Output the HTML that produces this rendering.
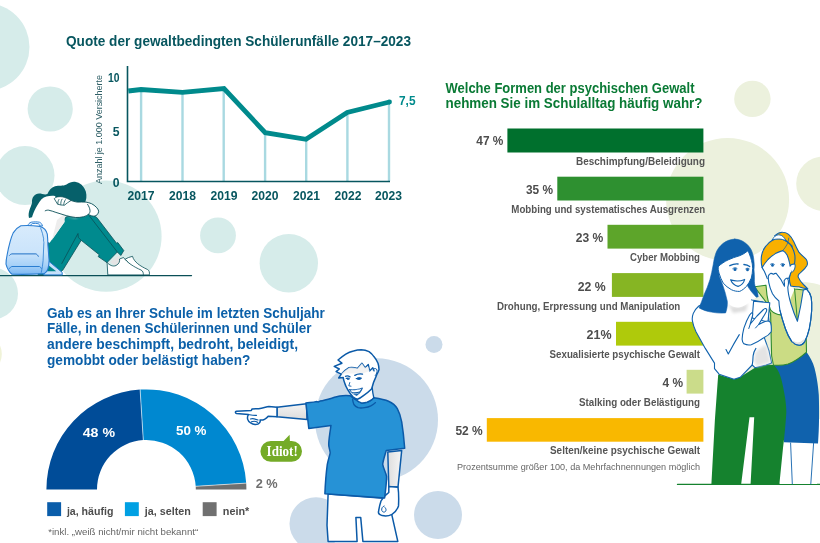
<!DOCTYPE html>
<html lang="de">
<head>
<meta charset="utf-8">
<title>Gewalt an Schulen – Infografik</title>
<style>
html,body{margin:0;padding:0;background:#fff;}
body{width:820px;height:543px;overflow:hidden;font-family:"Liberation Sans",sans-serif;}
svg{display:block;}
text{font-family:"Liberation Sans",sans-serif;}
.serif{font-family:"Liberation Serif",serif;}
.t1{fill:#07565f;font-weight:bold;font-size:14.8px;}
.t2{fill:#0a7a35;font-weight:bold;font-size:14.6px;}
.t3{fill:#0b60a9;font-weight:bold;font-size:14.8px;}
.yr{fill:#07565f;font-weight:bold;font-size:12.2px;}
.pct{fill:#4d4d4d;font-weight:bold;font-size:12.8px;}
.lab{fill:#555;font-weight:bold;font-size:10.6px;}
.fn{fill:#666;font-size:9px;}
.leg{fill:#4d4d4d;font-size:11.4px;font-weight:bold;}
</style>
</head>
<body>
<svg width="820" height="543" viewBox="0 0 820 543">
<!-- background circles -->
<g fill="#d6ecea">
<circle cx="-14.3" cy="47" r="43.8"/>
<circle cx="50.2" cy="109" r="22.6"/>
<circle cx="25" cy="175.5" r="29.5"/>
<circle cx="106" cy="236.2" r="55.6"/>
<circle cx="218" cy="235.4" r="17.9"/>
<circle cx="288.8" cy="263.2" r="29.2"/>
<circle cx="-8" cy="293.5" r="26"/>
</g>
<circle cx="-19" cy="354" r="20.8" fill="#f0f3d8"/>
<g fill="#cbdbea">
<circle cx="376.5" cy="419.7" r="61.5"/>
<circle cx="434" cy="344.5" r="8.5"/>
<circle cx="438" cy="515" r="24"/>
<circle cx="316" cy="523.7" r="26.5"/>
</g>
<g fill="#ecf1dd">
<circle cx="752.4" cy="98.9" r="18.2"/>
<circle cx="727.6" cy="199.4" r="61.5"/>
<circle cx="823.4" cy="183.7" r="27.2"/>
<circle cx="800" cy="352" r="70"/>
</g>
<!-- line chart -->
<text class="t1" x="66" y="46.4" textLength="345" lengthAdjust="spacingAndGlyphs">Quote der gewaltbedingten Schülerunfälle 2017–2023</text>
<g fill="#a9d9e1">
<rect x="139.9" y="90" width="2.4" height="91"/>
<rect x="181.3" y="92" width="2.4" height="89"/>
<rect x="222.5" y="89" width="2.4" height="92"/>
<rect x="263.9" y="133" width="2.4" height="48"/>
<rect x="305" y="139" width="2.4" height="42"/>
<rect x="346.2" y="113" width="2.4" height="68"/>
<rect x="387.8" y="103" width="2.4" height="78"/>
</g>
<path d="M127.5 66V181.5H390" fill="none" stroke="#07565f" stroke-width="1.6"/>
<path d="M128.3 91L141 89.5L182.5 92.3L224 88.5L265.2 132.7L306 139.3L347.2 112.5L389.5 102" fill="none" stroke="#008a8c" stroke-width="4.8" stroke-linejoin="miter"/>
<circle cx="389.5" cy="102" r="2.4" fill="#008a8c"/>
<text class="yr" x="119.5" y="81.5" text-anchor="end" textLength="11.5" lengthAdjust="spacingAndGlyphs">10</text>
<text class="yr" x="119.5" y="135.5" text-anchor="end">5</text>
<text class="yr" x="119.5" y="186.5" text-anchor="end">0</text>
<text transform="translate(102,184) rotate(-90)" font-size="8.3" fill="#2f5f66" textLength="109" lengthAdjust="spacingAndGlyphs">Anzahl je 1.000 Versicherte</text>
<g class="yr" text-anchor="middle">
<text x="141" y="199.5" textLength="27" lengthAdjust="spacingAndGlyphs">2017</text>
<text x="182.5" y="199.5" textLength="27" lengthAdjust="spacingAndGlyphs">2018</text>
<text x="224" y="199.5" textLength="27" lengthAdjust="spacingAndGlyphs">2019</text>
<text x="265" y="199.5" textLength="27" lengthAdjust="spacingAndGlyphs">2020</text>
<text x="306.5" y="199.5" textLength="27" lengthAdjust="spacingAndGlyphs">2021</text>
<text x="348" y="199.5" textLength="27" lengthAdjust="spacingAndGlyphs">2022</text>
<text x="388.5" y="199.5" textLength="27" lengthAdjust="spacingAndGlyphs">2023</text>
</g>
<text x="399" y="104.8" fill="#008a8c" font-weight="bold" font-size="12.8" textLength="16.5" lengthAdjust="spacingAndGlyphs">7,5</text>
<!-- bar chart -->
<text class="t2" x="445.5" y="92.5" textLength="249" lengthAdjust="spacingAndGlyphs">Welche Formen der psychischen Gewalt</text>
<text class="t2" x="445.5" y="108.1" textLength="257" lengthAdjust="spacingAndGlyphs">nehmen Sie im Schulalltag häufig wahr?</text>
<rect x="507.4" y="128.5" width="196" height="24" fill="#00702d"/>
<rect x="557.3" y="176.7" width="146.1" height="23.8" fill="#2e9030"/>
<rect x="607.5" y="224.8" width="95.9" height="23.8" fill="#5da52a"/>
<rect x="611.9" y="273.1" width="91.5" height="23.8" fill="#86b523"/>
<rect x="616" y="321.8" width="87.4" height="23.8" fill="#afca0b"/>
<rect x="686.6" y="369.8" width="16.8" height="23.8" fill="#cbdc8a"/>
<rect x="486.8" y="418.1" width="216.6" height="23.6" fill="#f9b800"/>
<g class="pct" text-anchor="end">
<text x="503.3" y="145.3" textLength="27" lengthAdjust="spacingAndGlyphs">47 %</text>
<text x="553" y="193.5" textLength="27" lengthAdjust="spacingAndGlyphs">35 %</text>
<text x="603.3" y="242" textLength="27.5" lengthAdjust="spacingAndGlyphs">23 %</text>
<text x="605.7" y="290.6" textLength="28" lengthAdjust="spacingAndGlyphs">22 %</text>
<text x="611.6" y="338.9" textLength="25" lengthAdjust="spacingAndGlyphs">21%</text>
<text x="683" y="386.5" textLength="20.5" lengthAdjust="spacingAndGlyphs">4 %</text>
<text x="482.7" y="434.6" textLength="27.3" lengthAdjust="spacingAndGlyphs">52 %</text>
</g>
<g class="lab" text-anchor="end">
<text x="705" y="164.9" textLength="129" lengthAdjust="spacingAndGlyphs">Beschimpfung/Beleidigung</text>
<text x="705.3" y="212.6" textLength="194" lengthAdjust="spacingAndGlyphs">Mobbing und systematisches Ausgrenzen</text>
<text x="700" y="261.2" textLength="70" lengthAdjust="spacingAndGlyphs">Cyber Mobbing</text>
<text x="680.3" y="309.8" textLength="183.3" lengthAdjust="spacingAndGlyphs">Drohung, Erpressung und Manipulation</text>
<text x="700" y="358" textLength="150.4" lengthAdjust="spacingAndGlyphs">Sexualisierte psychische Gewalt</text>
<text x="700" y="405.5" textLength="121" lengthAdjust="spacingAndGlyphs">Stalking oder Belästigung</text>
<text x="700" y="454" textLength="150" lengthAdjust="spacingAndGlyphs">Selten/keine psychische Gewalt</text>
</g>
<text class="fn" x="700" y="469.7" text-anchor="end" textLength="243" lengthAdjust="spacingAndGlyphs">Prozentsumme größer 100, da Mehrfachnennungen möglich</text>
<!-- half donut -->
<text class="t3" x="47" y="317.8" textLength="277.7" lengthAdjust="spacingAndGlyphs">Gab es an Ihrer Schule im letzten Schuljahr</text>
<text class="t3" x="47" y="333.4" textLength="264.5" lengthAdjust="spacingAndGlyphs">Fälle, in denen Schülerinnen und Schüler</text>
<text class="t3" x="47" y="349" textLength="251" lengthAdjust="spacingAndGlyphs">andere beschimpft, bedroht, beleidigt,</text>
<text class="t3" x="47" y="364.6" textLength="203.4" lengthAdjust="spacingAndGlyphs">gemobbt oder belästigt haben?</text>
<path d="M46.40 489.40A100 100 0 0 1 140.12 389.60L143.30 440.10A49.4 49.4 0 0 0 97.00 489.40Z" fill="#004c98"/>
<path d="M140.12 389.60A100 100 0 0 1 246.20 483.12L195.70 486.30A49.4 49.4 0 0 0 143.30 440.10Z" fill="#0088d0"/>
<path d="M246.20 483.12A100 100 0 0 1 246.40 489.40L195.80 489.40A49.4 49.4 0 0 0 195.70 486.30Z" fill="#6f6f6f"/>
<path d="M140.09 389.10L143.33 440.60" stroke="#fff" stroke-width="0.6"/>
<path d="M246.70 483.09L195.20 486.33" stroke="#fff" stroke-width="0.6"/>
<text x="82.7" y="436.6" fill="#fff" font-weight="bold" font-size="13.3" textLength="32.3" lengthAdjust="spacingAndGlyphs">48 %</text>
<text x="176" y="435.3" fill="#fff" font-weight="bold" font-size="13.3" textLength="30.5" lengthAdjust="spacingAndGlyphs">50 %</text>
<text x="255.7" y="487.8" fill="#6f6f6f" font-weight="bold" font-size="13.3" textLength="22" lengthAdjust="spacingAndGlyphs">2 %</text>
<rect x="47.2" y="502.2" width="13.9" height="13.9" fill="#0a5daa"/>
<rect x="124.9" y="502.2" width="13.9" height="13.9" fill="#00a0e3"/>
<rect x="202.7" y="502.2" width="13.9" height="13.9" fill="#707070"/>
<text class="leg" x="66.9" y="514.7" textLength="46.5" lengthAdjust="spacingAndGlyphs">ja, häufig</text>
<text class="leg" x="144.8" y="514.7" textLength="46" lengthAdjust="spacingAndGlyphs">ja, selten</text>
<text class="leg" x="222.8" y="514.7" textLength="26.5" lengthAdjust="spacingAndGlyphs">nein*</text>
<text class="fn" x="48.2" y="535" textLength="150" lengthAdjust="spacingAndGlyphs">*inkl. „weiß nicht/mir nicht bekannt“</text>
<!-- bubble -->
<path d="M270.8 440.9H283.6L289.6 434.8L289.9 440.9H291.6A10.4 10.4 0 0 1 291.6 461.7H270.8A10.4 10.4 0 0 1 270.8 440.9Z" fill="#74ab27"/>
<text class="serif" x="266.6" y="455.6" fill="#fff" font-weight="bold" font-size="14.5" textLength="31.2" lengthAdjust="spacingAndGlyphs">Idiot!</text>
<!-- sitting girl -->
<defs><filter id="bl" x="-30%" y="-30%" width="160%" height="160%"><feGaussianBlur stdDeviation="1.6"/></filter></defs>
<g stroke-linejoin="round" stroke-linecap="round">
<!-- ground -->
<path d="M0 275.6H191.5" stroke="#0a4f57" stroke-width="1.3" fill="none"/>
<!-- hair -->
<path d="M29 218C27.5 212 31 207 32 203C31.5 199 33 196 36 194.3C40 192.3 44 195.5 47.4 194C49 190.5 51 187.5 55 186.3C59 185 63 186.5 66.5 184.5C69.5 182.5 72 181.5 75 181.8C80 182.5 84 186 85.8 191.5C87 196 86.5 200 84.5 203.5L56 199L40 205L33 217Z" fill="#06606a"/>
<!-- trousers back leg + front leg -->
<path d="M91.5 214.5L96.8 217.5L116.5 243.2L117.8 242.6L123.8 250.6L120.8 255.5L117.3 252L107 262.6L98.2 256.6L99.3 254.8L81.2 240.3L63 269.8L58 274.9H38L48.5 243L66 217L80 214Z" fill="#008a8e" stroke="#0a4f57" stroke-width="0.8"/>
<path d="M89.5 216L117.3 252" stroke="#0a4f57" stroke-width="0.8" fill="none"/>
<path d="M81.2 240.3L78.3 237.5L78 233.5L61.8 263.5" stroke="#0a4f57" stroke-width="0.8" fill="none"/>
<!-- shoes -->
<path d="M125.5 259L128.5 257.5L132.5 256.3C134 262 140 266 147.5 269.5C149.3 270.5 149.8 272.5 149.3 274.9H140Z" fill="#fff" stroke="#0a4f57" stroke-width="0.8"/>
<path d="M110 262L118.5 255.5L121.5 259.5L116 266Z" fill="#e4e4e4"/>
<path d="M107.3 262.6C109 265 113 267 116 265.5C119 264 120 261.5 119.5 259L123.5 257.5C127 262.5 134 267 141 270C143 271 143.5 273 143.3 274.9H108.2Z" fill="#fff" stroke="#0a4f57" stroke-width="0.8"/>
<!-- shirt body -->
<path d="M31 222C32.5 214 35.5 207 41.5 199.3C45 196.3 50 195.5 55 196L64 212L64.5 222L49.5 243L46 238L40 226Z" fill="#fff"/>
<path d="M64.2 214L64.5 222L52 240L57 220Z" fill="#ededed"/>
<!-- arm -->
<path d="M45.2 210.8C46.3 210.2 47.5 210 48.7 210.2C51 210.7 53.5 211.5 55.9 212.4L66.2 215.6C69.3 216.5 72.5 217.2 75.7 217.5C78.5 217.6 81.2 217.3 83.7 216.7C85.5 216.2 87.1 215.5 88.4 214.4C89.5 215 90.5 215.3 91.5 215.8C92.6 216.2 93.8 216.2 94.8 216C95.7 215.8 96.5 215.4 97.1 214.8C98 213.8 98.6 212.5 98.7 211.2C98.4 209.7 97.5 208.4 96.3 207.2C94.9 205.8 93.3 204.6 91.6 203.7C89.8 203 87.9 202.4 86 202.1L77.3 202.1L71 200.5L54 198L44 203Z" fill="#fff"/>
<path d="M62 214.5L75.7 218.5L78 217.6L66.2 215.6Z" fill="#dedede" filter="url(#bl)"/>
<path d="M45.2 210.8C46.3 210.2 47.5 210 48.7 210.2C51 210.7 53.5 211.5 55.9 212.4L66.2 215.6C69.3 216.5 72.5 217.2 75.7 217.5C78.5 217.6 81.2 217.3 83.7 216.7C85.5 216.2 87.1 215.5 88.4 214.4C89.7 213.2 90.2 211.8 90 210.4C89.8 208.2 88.8 206.2 87.6 204.4M88.4 214.4C89.5 215 90.5 215.4 91.5 215.8C92.6 216.2 93.8 216.2 94.8 216C95.7 215.8 96.5 215.4 97.1 214.8C98 213.8 98.6 212.5 98.7 211.2C98.4 209.7 97.5 208.4 96.3 207.2C94.9 205.8 93.3 204.6 91.6 203.7C89.8 203 87.9 202.4 86 202.1C83 201.9 80 202.1 77.3 202.1C75 201.8 72.8 201.2 71 200.5" fill="none" stroke="#0a4f57" stroke-width="0.9"/>
<!-- hand -->
<path d="M54.5 198.4C55.5 197.3 57 196.8 59 196.7C61.5 196.5 64 197 66.2 198.1C68 198.8 69.8 199.6 71 200.5L67.3 202.9L64.5 205.2L61 205L58 204.3Z" fill="#fff" stroke="#0a4f57" stroke-width="0.8"/>
<path d="M58.9 199.5C58 201 57.7 202.5 57.9 204M62 199.2C61 201 60.7 202.7 60.8 204.4M65.4 199.7C64.3 201.4 63.8 203 63.8 204.8" stroke="#0a4f57" stroke-width="0.8" fill="none"/>
<!-- backpack -->
<defs><linearGradient id="bp" x1="0" y1="0" x2="0" y2="1"><stop offset="0" stop-color="#d8ebfc"/><stop offset="0.55" stop-color="#cbe4fb"/><stop offset="0.8" stop-color="#a9d2f8"/><stop offset="1" stop-color="#7db9f3"/></linearGradient></defs>
<path d="M47.9 260.5L62.2 272.4V274.9H44Z" fill="#c6e0fa" stroke="#2a7dd1" stroke-width="1"/>
<path d="M48.5 265.3L56.2 271.2H46.1Z" fill="#00878a"/>
<path d="M27.5 226C28.3 224 29.5 222.7 31.1 222.2C34 221.7 37 221.7 39.5 222.2C41 222.8 42 224 42.5 226L40 226C39.5 224.8 39 224 38.3 223.7C36.3 223.3 34.3 223.3 32.3 223.6C31.5 224 30.9 224.8 30.5 226Z" fill="#d8ebfc" stroke="#2a7dd1" stroke-width="0.9"/>
<path d="M20.9 225.8C27 225.3 33.5 225.6 39.5 226.4C41.8 226.9 43.6 227.9 44.9 229.4C46 230.8 46.9 232.4 47.3 234.1C47.7 237.7 47.8 241.3 47.9 244.9L49.1 260.5C49 263.5 48.6 266.3 47.9 268.8C47.2 271 46 272.6 44.3 273.6C33.5 274.4 22.7 274.5 12 274.2C10.4 273 9.2 271.6 8.4 270C7.3 268.2 6.5 266.2 6 264.1C6 260.8 6.5 257.6 7.2 254.5C8 250 9 245.6 10.2 241.3C11 238.4 12 235.6 13.2 232.9C15 229.8 17.5 227.4 20.9 225.8Z" fill="url(#bp)" stroke="#2a7dd1" stroke-width="1.1"/>
<path d="M9.6 255.3C10.2 254.5 11 254 12 253.9H35.9C37 254.3 37.8 255.2 38.3 256.3" fill="none" stroke="#1f6fc4" stroke-width="1"/>
<path d="M9.6 268.4C10.2 267.3 11 266.7 12 266.5H39.5C40.3 266.9 40.9 267.5 41.3 268.4" fill="none" stroke="#2a7dd1" stroke-width="1"/>
<path d="M40.7 228.2C42 231.5 43 235 43.7 238.9C43 240.5 44.3 242 43.8 244C43.6 249.5 43.4 255 43.1 260.5C42.8 264.6 42.2 268.6 41.3 272.4" fill="none" stroke="#2a7dd1" stroke-width="0.8"/>
</g>
<!-- pointing boy -->
<defs>
<linearGradient id="slv" x1="0" y1="0" x2="0" y2="1"><stop offset="0" stop-color="#f4f4f4"/><stop offset="1" stop-color="#dcdcdc"/></linearGradient>
<linearGradient id="slv2" x1="0" y1="0" x2="1" y2="0"><stop offset="0" stop-color="#dedede"/><stop offset="1" stop-color="#f6f6f6"/></linearGradient>
</defs>
<g stroke="#0b5aa8" stroke-width="1.5" stroke-linejoin="round" stroke-linecap="round">
<!-- shorts -->
<path d="M328.1 494L327 525.2L328.1 541.4H357.1L355.9 517.4H360.7L362.9 541.4H397.8L392 515.6L387 498.5Z" fill="#fff"/>
<!-- right arm -->
<path d="M387.8 452L401.7 450.5L398 487H388.8Z" fill="url(#slv2)"/>
<path d="M388.8 486.5L398 487.2C398.8 493 398.8 500 398.5 505.9C397 510 394.5 513 392 514.4C389 516 385 516.3 382.2 515.6C379.5 514.8 378.2 513.5 378.5 512C379 508 380 504 381 501C383 497 386 494.5 388.8 492.4Z" fill="#fff"/>
<path d="M384.2 506C382.3 506.5 381.3 508.5 381.8 510.5C382.4 512.3 384.5 512.6 385.6 511.3C386.5 510 386 508.5 385 507.5" fill="none" stroke-width="1"/>
<!-- pointing arm sleeve (long sleeve) -->
<path d="M277 407.3L306.5 403.8L307 419.4L277 416.8Z" fill="url(#slv)"/>
<!-- hand -->
<path d="M277 407.3L268.9 406.4C265 407.3 262 408.3 258.7 408.7C256.5 408.7 254 408.8 252.1 409C251.8 409.5 251.5 410 251.3 410.5L236.5 411.3C235 411.5 235 413.2 236.5 413.5L248.4 414.6C247.5 416 247.3 417.8 247.7 419.3C248.3 421.3 249.3 422.3 250.6 422.9C252 423.8 253.5 424.3 255 424.4C257 424.5 258.7 424 259.4 422.9C260.3 422 260.4 421 260.1 420C261.5 420.2 263.2 420 264.5 419.3C266 418.5 267.3 417.5 268.2 416.3L277 416.8Z" fill="#fff"/>
<path d="M248.4 414.6C251 415 254 415.6 256.5 415.3M250.5 419C252.5 418.3 255.5 419 258 420M251.5 421.8C253.5 421 256 421.3 257.5 422.3" fill="none" stroke-width="1.2"/>
<!-- t-shirt -->
<path d="M305.9 402.9C310 402.4 313.5 402.3 316 401.6L318.5 401.9L320 401.1C328 399.5 335 397 340 396.1C343.5 395.4 347 395.4 350.3 395.8C352 397.5 354 398.8 356.1 399.7C357.8 401.3 359.5 402.3 361.3 402.9C363.3 403.1 365.2 402.8 367.1 402.2C369 401.5 370.7 400.5 372.2 399.3L373.8 397.7C379 398.5 385 399.6 388.5 401.2C392.5 403 395.5 405.5 397.3 408.6C399.5 412.5 400.8 417 401.7 421.9C403 430 404 439 404.7 448.2L386.2 450.6C385 455 383.2 460 382.7 464.4C383.5 469 386 472.5 386.6 476.6C386.5 484 385.5 491 384.6 498L324.9 493.7C325.3 484 326 474 327.3 464.4C328.5 458 330 455 330.2 452.8C330 450 328.5 447 328.7 444C329 438 330 432 331 425.5L308.8 428.5Z" fill="#2692d6"/>
<path d="M352.6 399.3C352.8 401.3 353.2 403 353.9 404.5C355 406 356.4 407 358 407.7C360 408.2 362.3 408.1 364.5 407.7C366.8 407.3 369 406.7 370.9 405.8C372.7 404.9 374.2 403.9 375.4 402.6" fill="none" stroke-width="1.35"/>
<!-- neck -->
<path d="M356.1 399.7C357.8 401.3 359.5 402.3 361.3 402.9C363.3 403.1 365.2 402.8 367.1 402.2C369 401.5 370.7 400.5 372.2 399.3L373.8 397.7C373 394.5 372.5 391 372.2 387.7L363 395L357 399Z" fill="#fff" stroke="none"/>
<path d="M356.1 399.7C357.8 401.3 359.5 402.3 361.3 402.9C363.3 403.1 365.2 402.8 367.1 402.2C369 401.5 370.7 400.5 372.2 399.3L373.8 397.7C373 394.5 372.5 391 372.2 387.7" fill="none" stroke-width="1.35"/>
<!-- head -->
<path d="M338 360C340.5 358 343 356 345.8 354.2C348.5 352.5 351 351.6 353.5 351C356 350.2 358.7 349.7 361.2 349.7C364 349.8 366.7 350.5 369 351.6C371 353 372.8 354.8 374.1 356.8C375.8 358.8 377 361 378 363.2C378.7 365.3 379 367.5 379 369.6C378.5 371.5 377.5 373.3 376.7 374.8C375.8 377.5 374.5 380 373.5 382.5C372.8 384.8 372.3 387 371.5 389C369 391.5 366.5 393.5 363.8 395.4C361.8 397 359.7 398.5 357.4 399.3C355.7 398.8 354.2 397.8 352.9 396.7C350.8 394.5 349.2 392.2 347.7 389.6C346.3 387.3 345.2 385 344.5 382.5C343.8 380.8 343.4 379 343.2 377.4L338.7 378L341.3 374.1L336.1 371.6L339.3 369L334.2 366.4L341.9 363.2Z" fill="#fff"/>
<!-- hair fringe -->
<path d="M341.3 374.1C343.5 371.5 346 369.5 349 367.7C352 367.3 354.8 367.6 357.4 368.4L361.9 363.2L365.1 367.7L368.3 364.5L369.6 370.9L372.8 367.7L374.1 370.9" fill="none" stroke-width="1.35"/>
<path d="M349 367.7C352 367.3 354.8 367.6 357.4 368.4L361.9 363.2L365.1 367.7L368 366L369.6 370.9L364 373L356 373.5L349 373.5L344 373.5L343 375.5L341.3 374.1C343.5 371.5 346 369.5 349 367.7Z" fill="#efefef" stroke="none" opacity="0.8"/>
<!-- ear -->
<path d="M373 369.5C374.5 368 376.5 368.2 377 370C377.3 372 376.5 374 375.3 375.5" fill="none" stroke-width="1"/>
<!-- face details -->
<path d="M345.5 376.3C346.8 375.7 348.5 375.9 350 376.8M354.8 375.4C357 374 360 373.7 362.5 374.1" fill="none" stroke-width="1.35"/>
<path d="M346.3 378.3C347.3 377.6 348.8 377.8 349.6 378.8C348.8 379.8 347.2 379.8 346.3 378.3ZM356.3 378.6C357.8 377.4 360 377.3 361.6 378.2C360.3 379.8 357.8 380 356.3 378.6Z" fill="#0b5aa8" stroke-width="0.9"/>
<path d="M349.8 382.5L348.8 385.8L351 386.2" fill="none" stroke-width="0.9"/>
<path d="M349.4 389.6C353.5 390.2 358.5 389.5 362.5 387.9C361.5 391 359.5 393.8 356.7 395.4C353.5 394.5 351 392.3 349.4 389.6Z" fill="#0b5aa8" stroke-width="0.8"/>
<path d="M350.6 390.2C354 390.6 358 390 361.3 388.8C360.8 389.9 360.2 390.8 359.6 391.6C357 392.3 354 392.4 351.8 391.9Z" fill="#fff" stroke="none"/>
<path d="M353.5 393.6C355.3 394 357 393.8 358.3 393.2" fill="none" stroke="#fff" stroke-width="0.6"/>
</g>
<!-- two women -->
<defs>
<radialGradient id="shade1" cx="0.5" cy="0.5" r="0.5"><stop offset="0" stop-color="#e6e6e6"/><stop offset="1" stop-color="#ffffff"/></radialGradient>
</defs>
<g stroke-linejoin="round" stroke-linecap="round">
<path d="M677.5 484.4H820" stroke="#15822e" stroke-width="1.3" fill="none"/>
<!-- woman 2 legs -->
<path d="M780 443H817V484H780Z" fill="#fff"/><path d="M790.6 443L792.3 484M813.6 443L810.8 484" fill="none" stroke="#1062ad" stroke-width="0.9"/>
<!-- woman 2 skirt -->
<path d="M773.4 365L806.5 352C810 357 813 362 814.5 368C816.5 376 818 384 818.8 395C819.3 410 819.3 428 818 443.5L784 442.3L780 400Z" fill="#1062ad"/>
<!-- woman 2 green top -->
<path d="M754.5 286.8L766 285.2L794.6 289L803.8 290L806.5 300L806 330L806.5 352.1C801 357 795 361.5 788.1 364C783 365.5 778 365.5 773.4 365L771.6 355.8L770.6 313.4L766 302Z" fill="#cbdc84" stroke="#2e8b2e" stroke-width="1.1"/>
<!-- woman 2 chest/neck skin -->
<path d="M766 285.2C766.3 292 767.5 299 769 305C769.8 308 770.3 309.5 770.7 310.2C773.5 313 777 314.8 780.8 314.9L790 300L794.6 289L790.8 286L789 280L768 276Z" fill="#fff"/>
<path d="M766 285.2C766.3 292 767.5 299 769 305C769.8 308 770.3 309.5 770.7 310.2C773.5 313 777 314.8 780.8 314.9" fill="none" stroke="#2e8b2e" stroke-width="1.1"/>
<path d="M794.6 289L797.4 321" fill="none" stroke="#2e8b2e" stroke-width="1"/>
<!-- woman 2 ponytail -->
<path d="M774.6 236C777 233.5 780 232 782.7 232.2C785 232.3 787 233 788.6 234.4C791 236.5 792.5 239 793.8 241.8C795.5 245.5 797 249 798.9 252.1C801 255 804.5 257 806.3 259.5C807.5 261.5 807.8 263.5 807 265.4C805 269 801.5 271.5 798.9 274.2C798.2 275 798 276 798.2 277.1C799.5 280 801.5 282.5 803.4 284.5C805 286 806.5 287.5 807.8 288.9C804.5 288.5 801.5 287.8 798.9 286.7C796 286.8 793 286.6 790.8 286C789.8 283.5 789.3 281 789.4 278.6C789.5 276.5 790 274.5 790.8 272.7L794.5 263.9L792 246L783 238Z" fill="#f9b000" stroke="#1062ad" stroke-width="1.1"/>
<!-- woman 2 face -->
<path d="M762.1 267.6L764.3 271.3L767.3 278.6L771 290L789 290L788.6 278.6L790.8 272.7L794.5 264L790 250L776 250L764 262Z" fill="#fff"/>
<path d="M762.1 267.6C762.8 269 763.6 270.3 764.3 271.3C765.3 273.5 766.3 276 767.3 278.6" fill="none" stroke="#1062ad" stroke-width="1.1"/>
<path d="M790.8 272.7C790.3 274.8 789.5 276.8 788.6 278.6" fill="none" stroke="#1062ad" stroke-width="1.1"/>
<!-- ear -->
<path d="M791.4 264.5C792.8 262.8 794.6 263 795.1 265C795.5 267.5 794.3 270.5 792.3 272.3" fill="#fff" stroke="#1062ad" stroke-width="1"/>
<!-- woman 2 hair cap -->
<path d="M762.1 267.6C761.2 264 761 260 761.4 256.5C762 252.5 763.5 249 765.8 246.2C767.5 243.8 769.8 241.8 772.4 240.3C774.8 239.2 777.3 238.7 779.8 238.8C782.5 239.2 785 240.2 787.1 241.8C789.4 243.3 791.2 245.3 792.3 247.7C793.6 250 794.4 252.5 794.8 255C795.2 258 795 261 794.5 263.9L791.5 264.5L790.1 266.1C790 264.8 789.8 263.6 789.4 262.4C788.9 259.8 788.1 257.3 787.1 255C786 253 784.5 251.5 782.7 250.6C780.2 251.2 777.7 252.3 775.4 253.6C772.7 255.3 770.2 257.3 768 259.5C765.8 262 763.8 264.7 762.1 267.6Z" fill="#f9b000" stroke="#1062ad" stroke-width="1.1"/>
<path d="M772.3 239.8C773.8 236.5 776.2 234.9 778.8 234.8C782.2 235 784.6 237.3 785.8 241C783.6 239.6 781.2 239 778.6 239C776.4 239 774.2 239.3 772.3 239.8Z" fill="#fff" stroke="#1062ad" stroke-width="0.9"/>
<path d="M782.7 250.6C786 247 788.5 243 788.8 238" fill="none" stroke="#1062ad" stroke-width="0.7"/>
<!-- woman 2 eyes -->
<path d="M770.6 264.2C771.8 263.4 773.3 263.5 774.3 264.4M780.8 264.2C782 263.4 783.6 263.5 784.7 264.5" fill="none" stroke="#1062ad" stroke-width="1"/>
<ellipse cx="772.5" cy="265.3" rx="1.3" ry="1.5" fill="#1062ad"/><ellipse cx="782.8" cy="265.3" rx="1.3" ry="1.5" fill="#1062ad"/>
<!-- woman 2 arm + hand -->
<path d="M806.6 289.1C809 291.5 810.6 294.3 811.2 297.4C811.8 301.5 811.9 306 811.7 310.2C811.3 316.5 810.5 322.7 809.3 328.7C808.2 333.5 806.7 338 804.7 341.6C803.2 344 801.3 345.2 799.2 345.2C796.3 345 793.8 343.7 791.8 341.6C789.2 337.7 787 333.3 785.4 328.7C783.3 322.7 781.4 316.5 779.9 310.2C779.4 307 779 304 778.9 301C776.3 299 774.2 296.5 772.5 293.7C770.8 290.2 769.5 286.5 768.8 282.6C768.4 280.5 768.2 278.3 768.3 276.2C768.8 274.8 769.6 273.8 770.7 273.4C771.7 273.3 772.6 273.7 773.4 274.3C774.2 273.6 775.2 273.2 776.2 273.4C779.5 277 782.3 281.4 784.5 286.3C784.6 284.4 784.4 282.6 784.1 280.8C784.8 279.4 785.9 278.3 787.2 278C788.2 279.3 788.6 280.9 788.5 282.6C788.5 284.2 788.2 285.8 787.8 287.2C788 293 789.3 298.5 791 304C792.8 310 795 316 797.4 321.3C799.8 311 801.8 300.5 803.3 290Z" fill="#fff" stroke="#1062ad" stroke-width="1.1"/>
<path d="M793 342C796 344 800.5 344 804 340.5" fill="none" stroke="#e2e2e2" stroke-width="2.2"/>
<path d="M806.6 289.1C809 291.5 810.6 294.3 811.2 297.4C811.8 301.5 811.9 306 811.7 310.2C811.3 316.5 810.5 322.7 809.3 328.7C808.2 333.5 806.7 338 804.7 341.6C803.2 344 801.3 345.2 799.2 345.2C796.3 345 793.8 343.7 791.8 341.6C789.2 337.7 787 333.3 785.4 328.7C783.3 322.7 781.4 316.5 779.9 310.2" fill="none" stroke="#1062ad" stroke-width="1.1"/>
<!-- woman 1 trousers -->
<path d="M718.2 374.5L734 379.2L740.2 377L755 367.7L766 364.2L773.4 365C777 368 780.5 373 783 386.4C785 396 786.5 405 786.3 413C785.5 425 784.5 436 783 448L779.4 484H750.6L754.2 417.2H749.5L741.2 484H711.4L714.9 419.7Z" fill="#15822e"/>
<!-- woman 1 blouse torso -->
<path d="M698.8 306C696.5 308 694.5 310.5 693.3 313.4C692.3 316 692 318.5 692.4 320.8C693 324.5 694.3 328 696 331.8L705.3 348.4L714.5 363.1V368.7L719.1 374.2L734 379.3L740.2 377.3L752.2 365L755 367.7L766 365L771.6 363.1L768.8 350.2L764.2 337.4L770 330L767 303L752 300L740 293L725 292L712 300Z" fill="#fff" stroke="#1062ad" stroke-width="1.1"/>
<path d="M755 353C758 349 762 346 766.5 345L770.5 362.5L757 366.5L754 361Z" fill="#e4e4e4" filter="url(#bl)"/>
<path d="M727 302C731 308 740 309 748 303L746 311L733 313Z" fill="#dcdcdc" filter="url(#bl)"/>
<!-- woman 1 forearm -->
<path d="M739.3 334.6C736 340 732 347 728.3 353.9L726 349.5M755.9 348.4C754.5 350.5 753.5 353 753.1 355.8C753 359 752.8 362 752.2 365" fill="none" stroke="#1062ad" stroke-width="1.1"/>
<!-- phone -->
<path d="M753.6 301.2L769.8 302.7L768 322L752.2 318Z" fill="#fff" stroke="#1062ad" stroke-width="1.1"/>
<!-- woman 1 hand -->
<path d="M742.1 339.2C742.3 335.5 743 331.5 743.9 328.1C745.5 323.5 747.3 319 749.5 315.3C750.3 314 751.2 313 752.2 312.5C753 313.5 752.8 315.5 752 317.5L750.3 324L757 316L763.5 309.5C764.5 308.3 766 308 766.6 309.2C767 310.5 766.3 312 765.3 313.5L758.7 324.5L765 321.5C767 320.8 769.5 321.2 770.6 322.6C771.3 325.5 771.5 328.8 771.2 331.8C769.5 334.5 767 336.3 764.2 337.4C760 340.5 755.5 343 751.3 344.7C748.5 345.3 746 344.8 743.9 343.8C742.8 342.5 742.2 341 742.1 339.2Z" fill="#fff" stroke="#1062ad" stroke-width="1.1"/>
<path d="M750.3 324L748.8 328.5M758.7 324.5L755.5 328" fill="none" stroke="#1062ad" stroke-width="1"/>
<!-- woman 1 neck -->
<path d="M723 284L727.3 301.3C729 305 733 307.5 738 307.5C744 307 749.5 303 752.5 298L751.5 289L740 292Z" fill="#fff"/>
<!-- woman 1 hair -->
<path d="M734.8 239.1C730.5 239.3 726.5 240.8 723.2 243.3C720 246 717.8 248.7 716.5 251.6C714.8 255.8 713.8 260.3 713.2 264.8C712.3 270 711.2 275 709.9 279.8C708.3 285 706.3 290 704.1 294.7C702.5 299.3 700.8 303.7 699.1 307.9C703 310 707.3 311.5 711.5 312.1C716.3 313 721 313.3 725.6 312.9C727 309.3 727.5 305.3 727.3 301.3C726.3 296.3 724.8 291.3 723.2 286.4L720.7 279.8C719.6 277.7 719 275.5 719 273.1C718.3 271 718 268.8 718.2 266.5C721.2 263.8 724.5 261.6 728.1 259.9C731.8 258.2 735.7 256.8 739.7 255.7C742.8 254.5 745.6 252.8 748 250.7C750 255 751.5 259.5 752.3 264L752.7 268.2C752.6 271.6 752.1 275 751.3 278.1L747.2 285.3C749.5 289.5 752.8 293.5 756.3 297.2L758.2 296.8C758 293 757 290 755.5 287.3C754.6 285 754.2 282.3 754.4 279.8C754.5 276.5 754.3 273.2 754 269.8C754.3 266.5 754.3 263.2 753.8 259.9C753.5 256.3 752.7 253 751.3 249.9C749.7 247 747.5 244.5 744.7 242.5C741.7 240.3 738.3 239.2 734.8 239.1Z" fill="#1062ad" stroke="#1062ad" stroke-width="0.6"/>
<!-- woman 1 face -->
<path d="M718.2 266.5C721.2 263.8 724.5 261.6 728.1 259.9C731.8 258.2 735.7 256.8 739.7 255.7C742.8 254.5 745.6 252.8 748 250.7C750 255 751.5 259.5 752.3 264L752.7 268.2C752.6 271.6 752.1 275 751.3 278.1C750 281.2 748.3 284 746.4 286.4C744.4 288.6 742.2 290.3 739.7 291.4C736.8 291.5 734 291 731.4 289.7C728.3 288 725.5 285.8 723.2 283.1C721.5 280 720 276.6 719 273.1C718.3 271 718 268.8 718.2 266.5Z" fill="#fff" stroke="#1062ad" stroke-width="1"/>
<path d="M729.8 265.7C732.5 264.3 735.5 263.7 738.1 264M743.9 264.5C746 264.6 748.2 265.3 749.7 266.5" fill="none" stroke="#1062ad" stroke-width="1.3"/>
<path d="M732.8 268.6C734 267.6 735.8 267.5 737 268.4M745.8 268.8C746.8 268 748.2 268 749.2 268.8" fill="none" stroke="#1062ad" stroke-width="1"/>
<ellipse cx="735" cy="269.5" rx="1.5" ry="1.5" fill="#1062ad"/><ellipse cx="747.5" cy="269.7" rx="1.4" ry="1.5" fill="#1062ad"/>
<path d="M730.6 279.8C735 281.3 740.5 281.2 744.7 279.4C743.8 282.8 741.3 285.5 738.1 286.4C734.8 285.6 732 283.2 730.6 279.8Z" fill="#fff" stroke="#1062ad" stroke-width="1.1"/>
</g>
</svg>
</body>
</html>
